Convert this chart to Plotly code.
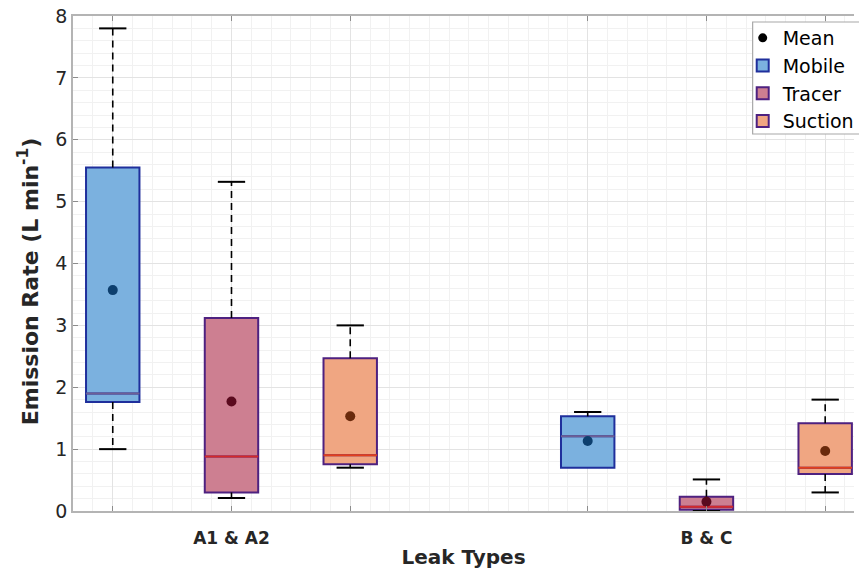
import plotly.graph_objects as go

# ---- data ----
groups = ["A1 & A2", "B & C"]
methods = ["Mobile", "Tracer", "Suction"]

lower = {"Mobile": [1.00, 0.70], "Tracer": [0.21, 0.00], "Suction": [0.70, 0.30]}
q1 = {"Mobile": [1.76, 0.70], "Tracer": [0.30, 0.02], "Suction": [0.755, 0.60]}
median = {"Mobile": [1.90, 1.21], "Tracer": [0.88, 0.07], "Suction": [0.90, 0.70]}
q3 = {"Mobile": [5.55, 1.53], "Tracer": [3.12, 0.23], "Suction": [2.47, 1.42]}
upper = {"Mobile": [7.80, 1.60], "Tracer": [5.32, 0.51], "Suction": [3.00, 1.80]}
mean = {"Mobile": [3.57, 1.13], "Tracer": [1.77, 0.15], "Suction": [1.53, 0.97]}

y_ticks = [0, 1, 2, 3, 4, 5, 6, 7, 8]

# ---- styles ----
fill = {"Mobile": "#7bb1df", "Tracer": "#cd7f91", "Suction": "#f0a682"}
edge = {"Mobile": "#1f2f9c", "Tracer": "#4e2180", "Suction": "#4e2180"}
med_col = {"Mobile": "#6e5f95", "Tracer": "#d42a2a", "Suction": "#e2401c"}
mean_col = {"Mobile": "#0d3f6e", "Tracer": "#5a0a1e", "Suction": "#6a2a0c"}
FONT = "DejaVu Sans"
BOXW = 0.45
CAPW = 0.115

fig = go.Figure()

positions = []
for g in range(len(groups)):
    for m, meth in enumerate(methods):
        positions.append((g, meth, 4 * g + m + 1))

# legend entry for mean
fig.add_trace(go.Scatter(x=[None], y=[None], mode="markers", name="Mean",
                         marker=dict(color="black", size=9), showlegend=True))

shown = set()
for g, meth, x in positions:
    fig.add_trace(go.Box(
        x=[x], q1=[q1[meth][g]], median=[median[meth][g]], q3=[q3[meth][g]],
        lowerfence=[q1[meth][g]], upperfence=[q3[meth][g]],
        width=BOXW, fillcolor=fill[meth], line=dict(color=edge[meth], width=2),
        name=meth, legendgroup=meth, showlegend=meth not in shown,
        hoverinfo="skip"))
    shown.add(meth)

for g, meth, x in positions:
    # dashed whiskers
    for a, b in [(q3[meth][g], upper[meth][g]), (q1[meth][g], lower[meth][g])]:
        if abs(a - b) > 1e-9:
            fig.add_trace(go.Scatter(x=[x, x], y=[a, b], mode="lines",
                                     line=dict(color="black", width=1.6, dash="7px,5px"),
                                     showlegend=False, hoverinfo="skip"))
            fig.add_trace(go.Scatter(x=[x - CAPW, x + CAPW], y=[b, b], mode="lines",
                                     line=dict(color="black", width=2),
                                     showlegend=False, hoverinfo="skip"))
    # median line
    fig.add_trace(go.Scatter(x=[x - BOXW / 2, x + BOXW / 2], y=[median[meth][g]] * 2,
                             mode="lines", line=dict(color=med_col[meth], width=2),
                             showlegend=False, hoverinfo="skip"))
    # mean dot
    fig.add_trace(go.Scatter(x=[x], y=[mean[meth][g]], mode="markers",
                             marker=dict(color=mean_col[meth], size=10),
                             showlegend=False, hoverinfo="skip"))

tickvals = [p[2] for p in positions]
ticktext = []
for g, meth, x in positions:
    ticktext.append(groups[g].replace("&", "&amp;") if meth == "Tracer" else "")

L, T, B = 73, 16, 58
W, H = 859, 569
pw, ph = W - L, H - T - B
xr0 = 1 - (113 - 73) / 119.5
xr1 = xr0 + pw / 119.5

lx0 = (757 - L) / pw
lx1 = 1.06
ly0 = (511 - 134) / ph
ly1 = (511 - 22) / ph

fig.update_layout(
    width=W, height=H,
    margin=dict(l=L, r=0, t=T, b=B),
    paper_bgcolor="white", plot_bgcolor="white",
    boxmode="overlay",
    font=dict(family=FONT, color="#262626"),
    xaxis=dict(
        range=[xr0, xr1], tickmode="array", tickvals=tickvals, ticktext=ticktext,
        tickfont=dict(family=FONT, size=17, weight="bold", color="#262626"),
        ticks="inside", ticklen=5, tickcolor="#8c8c8c",
        showline=True, linecolor="#b4b4b4", linewidth=1.5, mirror="ticks",
        showgrid=True, gridcolor="#e3e3e3", gridwidth=1,
        minor=dict(dtick=1 / 6, tick0=0, showgrid=True, gridcolor="#f1f1f1"),
        ticklabelstandoff=11, zeroline=False,
        title=dict(text="<b>Leak Types</b>", font=dict(family=FONT, size=20, color="#262626"),
                   standoff=5),
    ),
    yaxis=dict(
        range=[0, 8], tickmode="array", tickvals=y_ticks,
        tickfont=dict(family=FONT, size=19, color="#262626"),
        ticks="inside", ticklen=5, tickcolor="#8c8c8c",
        showline=True, linecolor="#b4b4b4", linewidth=1.5,
        showgrid=True, gridcolor="#e3e3e3", gridwidth=1,
        minor=dict(dtick=0.2, showgrid=True, gridcolor="#f1f1f1"),
        zeroline=False,
    ),
    legend=dict(
        x=(787 - 40 - L) / pw, xanchor="left", y=(511 - 19) / ph, yanchor="top",
        bgcolor="rgba(0,0,0,0)", borderwidth=0,
        font=dict(family=FONT, size=19, color="black"),
        tracegroupgap=0, traceorder="normal",
    ),
    shapes=[
        dict(type="rect", xref="paper", yref="paper", x0=lx0, x1=lx1, y0=ly0, y1=ly1,
             fillcolor="white", line=dict(width=0), layer="above"),
        dict(type="path", xref="paper", yref="paper",
             path=f"M {lx1} {ly0} L {lx0} {ly0} L {lx0} {ly1} L {lx1} {ly1}",
             fillcolor="rgba(0,0,0,0)", line=dict(color="#a8a8a8", width=1.2), layer="above"),
    ],
    annotations=[dict(text="<b>Emission Rate (L min<sup>-1</sup>)</b>", textangle=-90,
                      xref="paper", yref="paper", x=(28 - L) / pw, y=(511 - 281) / ph,
                      xanchor="center", yanchor="middle", showarrow=False,
                      font=dict(family=FONT, size=22, color="#262626"))],
)

fig.write_html("out.html", config={"displayModeBar": False},
               post_script="document.body.style.margin='0';document.body.style.overflow='hidden';")
